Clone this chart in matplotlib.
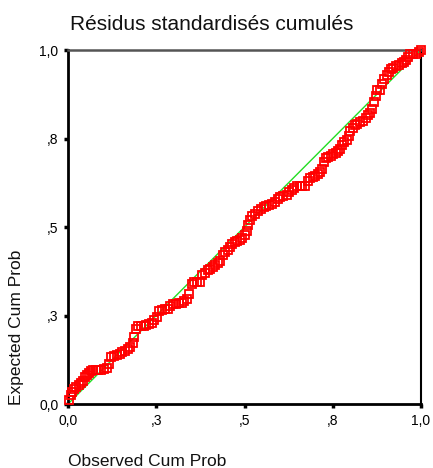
import matplotlib
matplotlib.use("Agg")
import matplotlib.pyplot as plt

plt.rcParams['font.family'] = ['Liberation Sans', 'DejaVu Sans']

title = "Résidus standardisés cumulés"
x_label = "Observed Cum Prob"
y_label = "Expected Cum Prob"
tick_values = [0.0, 0.25, 0.5, 0.75, 1.0]
tick_labels = ["0,0", ",3", ",5", ",8", "1,0"]

observed = [0.004, 0.008, 0.012, 0.018, 0.024, 0.030, 0.036, 0.042, 0.048, 0.054,
            0.060, 0.066, 0.072, 0.078, 0.086, 0.094, 0.102, 0.110, 0.116, 0.122,
            0.130, 0.138, 0.146, 0.154, 0.162, 0.170, 0.177, 0.183, 0.187, 0.192,
            0.198, 0.206, 0.214, 0.222, 0.230, 0.237, 0.244, 0.251, 0.258, 0.266,
            0.274, 0.282, 0.290, 0.298, 0.306, 0.314, 0.322, 0.330, 0.337, 0.343,
            0.350, 0.358, 0.366, 0.374, 0.381, 0.388, 0.396, 0.403, 0.410, 0.417,
            0.424, 0.431, 0.438, 0.445, 0.452, 0.459, 0.466, 0.473, 0.480, 0.487,
            0.494, 0.501, 0.507, 0.511, 0.516, 0.522, 0.530, 0.538, 0.546, 0.554,
            0.562, 0.570, 0.578, 0.586, 0.594, 0.601, 0.610, 0.619, 0.627, 0.634,
            0.641, 0.648, 0.656, 0.664, 0.672, 0.679, 0.686, 0.693, 0.700, 0.707,
            0.714, 0.720, 0.726, 0.731, 0.737, 0.744, 0.751, 0.758, 0.765, 0.771,
            0.776, 0.783, 0.790, 0.795, 0.800, 0.806, 0.813, 0.820, 0.828, 0.836,
            0.843, 0.849, 0.856, 0.862, 0.868, 0.872, 0.876, 0.884, 0.890, 0.896,
            0.903, 0.909, 0.915, 0.922, 0.930, 0.938, 0.945, 0.951, 0.958, 0.964,
            0.970, 0.978, 0.986, 0.994, 1.000]
expected = [0.012, 0.025, 0.035, 0.042, 0.047, 0.053, 0.060, 0.066, 0.076, 0.083,
            0.088, 0.093, 0.095, 0.096, 0.096, 0.097, 0.099, 0.102, 0.112, 0.132,
            0.137, 0.139, 0.142, 0.146, 0.150, 0.155, 0.160, 0.172, 0.190, 0.212,
            0.219, 0.220, 0.221, 0.222, 0.225, 0.230, 0.236, 0.245, 0.262, 0.266,
            0.267, 0.268, 0.278, 0.283, 0.283, 0.284, 0.285, 0.290, 0.296, 0.310,
            0.340, 0.345, 0.345, 0.346, 0.364, 0.371, 0.378, 0.382, 0.388, 0.394,
            0.399, 0.405, 0.420, 0.430, 0.436, 0.443, 0.452, 0.458, 0.460, 0.464,
            0.468, 0.478, 0.490, 0.506, 0.520, 0.530, 0.538, 0.545, 0.551, 0.556,
            0.559, 0.561, 0.566, 0.572, 0.579, 0.585, 0.587, 0.589, 0.598, 0.605,
            0.611, 0.615, 0.615, 0.615, 0.617, 0.630, 0.638, 0.641, 0.644, 0.650,
            0.656, 0.665, 0.685, 0.694, 0.697, 0.700, 0.706, 0.710, 0.715, 0.720,
            0.732, 0.740, 0.746, 0.757, 0.770, 0.779, 0.787, 0.792, 0.796, 0.799,
            0.808, 0.816, 0.822, 0.834, 0.852, 0.870, 0.887, 0.887, 0.905, 0.918,
            0.929, 0.938, 0.945, 0.950, 0.954, 0.957, 0.962, 0.967, 0.973, 0.980,
            0.988, 0.989, 0.990, 0.995, 1.000]
diagonal = [0.0, 1.0]

W, H = 433, 468
fig = plt.figure(figsize=(W / 100, H / 100), dpi=100)
ax = fig.add_axes([68 / W, 1 - 404 / H, (421 - 68) / W, (404 - 50) / H])

ax.plot(diagonal, diagonal, color='#22dd22', lw=1.0, zorder=2)
ax.plot(observed, expected, linestyle='none', marker='s', markersize=5.3,
        markerfacecolor='none', markeredgecolor='#ff0000', markeredgewidth=1.3,
        zorder=3, clip_on=False)

ax.set_xlim(0, 1)
ax.set_ylim(0, 1)
ax.set_xticks(tick_values)
ax.set_xticklabels(tick_labels)
ax.set_yticks(tick_values)
ax.set_yticklabels(tick_labels)
ax.tick_params(direction='out', length=3, width=2.5, colors='black',
               labelsize=10, pad=4)

for side in ['left', 'bottom']:
    ax.spines[side].set_linewidth(2.0)
    ax.spines[side].set_color('black')
ax.spines['top'].set_linewidth(1.8)
ax.spines['top'].set_color('#555555')
ax.spines['right'].set_linewidth(1.5)
ax.spines['right'].set_color('black')

fig.text(70 / W, 1 - 24 / H, title, fontsize=15, ha='left', va='center', color='#111111')
fig.text(68 / W, 1 - 461 / H, x_label, fontsize=12.5, ha='left', va='center', color='#111111')
fig.text(17 / W, 1 - 405 / H, y_label, fontsize=12.5, ha='center', va='bottom',
         rotation=90, color='#111111')

fig.savefig('out.png', dpi=100)
